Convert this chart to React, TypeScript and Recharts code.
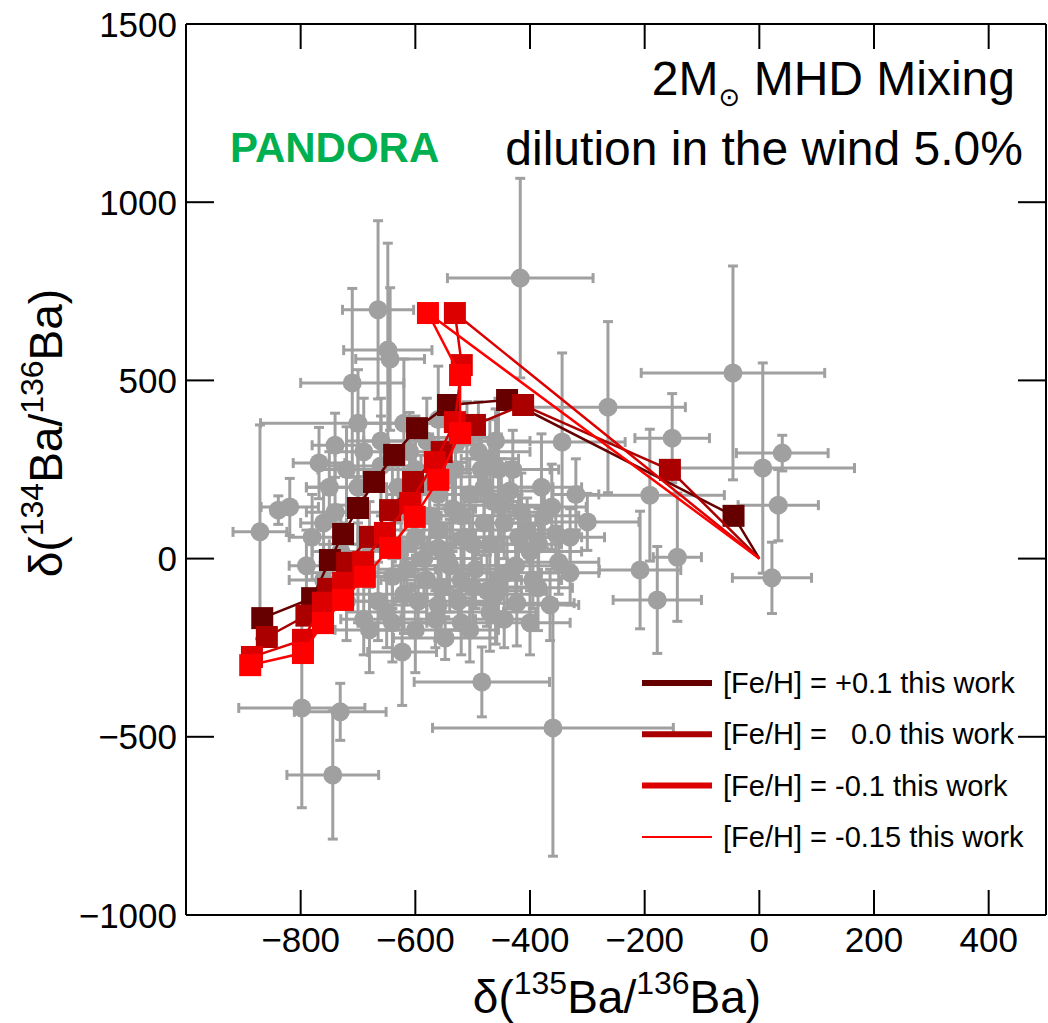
import React from 'react';
import { ScatterChart, Scatter, XAxis, YAxis, ErrorBar, ReferenceLine } from 'recharts';

const W = 1048;
const H = 1023;
const PLOT_TOP = 24;
const PLOT_RIGHT = 1046;
const FONT = '"Liberation Sans", Arial, Helvetica, sans-serif';
const GRAY = '#a0a0a0';

const xTicks = [-800, -600, -400, -200, 0, 200, 400];
const yTicks = [-1000, -500, 0, 500, 1000, 1500];

// grain measurements (gray)
const grayX = [-417, -665, -648, -644, -710, -740, -768, -700, -839, -871, -819, -46, -264, -152, 40, 6, 33, -191, -143, -208, -178, 22, -344, -300, -362, -360, -484, -798, -731, -744, -548, -386, -423, -623,
  -600, -560, -520, -480, -450, -420, -400, -380, -500, -540, -580, -620, -650, -600, -640, -680, -700, -720, -760, -780, -500, -470, -440, -560, -520, -480, -460, -530, -490, -580, -620, -560, -520, -600, -680, -660, -700, -740, -430, -400, -350, -330, -460, -640, -560, -455,
  -610, -590, -575, -545, -535, -515, -505, -495, -485, -470, -465, -455, -445, -435, -425, -415, -405, -395, -385, -375, -365, -355, -545, -555, -565, -585, -595, -605, -625, -630, -615, -525, -505, -475, -445, -530, -560, -510, -470, -660, -690, -720, -750, -730, -760, -790, -665, -690, -640, -330, -320];
const grayY = [787, 698, 585, 560, 493, 318, 268, 380, 136, 75, 145, 521, 425, 338, 296, 254, 150, 178, 4, -32, -116, -54, 327, 103, 145, -475, -346, -419, -430, -607, -223, -82, -125, -262,
  250, 180, 120, 200, 150, 60, 20, 200, 40, -20, -60, -100, -150, 60, 130, 40, -40, -120, -60, 60, -80, -150, -40, -130, -180, 100, -100, 250, 300, 330, 380, 80, -60, -200, -200, 260, 200, 130, 250, -180, -10, 60, 330, -50, 30, 250,
  300, 200, 120, 230, 140, 60, 180, -30, 250, 40, 160, -60, 100, 190, -20, 130, 80, -60, 40, 120, -130, 70, 0, -80, -170, 0, -120, 120, 30, 200, -30, -120, -200, -90, -170, 320, 390, 340, 280, 330, 300, 250, 200, 20, 100, -20, -120, -170, -180, -40, 180];
const grayEX = [127, 62, 77, 60, 90, 40, 45, 170, 12, 47, 50, 160, 135, 65, 80, 160, 70, 130, 42, 71, 77, 69, 110, 90, 60, 210, 118, 110, 80, 80, 90, 60, 100, 60,
  70, 90, 100, 120, 80, 110, 90, 70, 90, 100, 80, 90, 70, 100, 80, 70, 90, 70, 60, 40, 110, 80, 100, 90, 70, 80, 90, 60, 90, 110, 70, 90, 60, 80, 60, 80, 90, 50, 80, 70, 70, 60, 60, 50, 110, 90,
  40, 60, 50, 70, 40, 60, 50, 70, 40, 60, 50, 40, 60, 50, 70, 50, 60, 50, 40, 60, 50, 40, 60, 50, 60, 50, 40, 50, 40, 50, 50, 60, 50, 60, 50, 40, 50, 60, 50, 60, 50, 50, 40, 50, 40, 30, 50, 40, 60, 50, 40];
const grayEY = [280, 250, 300, 200, 265, 90, 100, 150, 40, 300, 80, 300, 240, 125, 50, 295, 100, 185, 180, 165, 150, 100, 250, 80, 120, 360, 98, 280, 80, 180, 60, 120, 120, 150,
  150, 120, 150, 100, 130, 120, 100, 150, 110, 130, 120, 110, 100, 140, 130, 120, 140, 110, 100, 120, 120, 110, 100, 100, 90, 90, 140, 110, 140, 120, 180, 100, 110, 120, 120, 140, 160, 130, 110, 90, 90, 80, 90, 90, 120, 200,
  110, 90, 100, 80, 120, 90, 100, 110, 90, 80, 110, 90, 100, 80, 90, 110, 90, 80, 100, 90, 100, 80, 100, 90, 80, 110, 90, 100, 120, 100, 90, 80, 90, 100, 80, 120, 150, 100, 110, 120, 150, 120, 100, 130, 110, 100, 110, 100, 110, 90, 100];

// model predictions, starting at solar (0,0)
const fehP01X = [0, -45, -440, -543, -597, -637, -672, -700, -726, -749, -780, -867];
const fehP01Y = [0, 120, 445, 431, 366, 291, 215, 142, 69, -4, -111, -167];
const feh00X = [0, -156, -412, -496, -554, -604, -644, -679, -719, -752, -790, -859];
const feh00Y = [0, 249, 431, 375, 299, 215, 136, 61, -12, -85, -160, -220];
const fehM01X = [0, -531, -519, -531, -566, -609, -653, -691, -726, -761, -796, -885];
const fehM01Y = [0, 689, 543, 383, 271, 156, 72, -10, -68, -124, -228, -276];
const fehM015X = [0, -578, -522, -522, -560, -601, -644, -688, -726, -761, -796, -888];
const fehM015Y = [0, 689, 515, 352, 221, 117, 30, -51, -116, -181, -265, -299];

const seriesNames = [
  '[Fe/H] = +0.1 this work',
  '[Fe/H] =   0.0 this work',
  '[Fe/H] = -0.1 this work',
  '[Fe/H] = -0.15 this work',
];
const seriesColors = ['#660000', '#aa0000', '#dd0000', '#ff0000'];
const legendLineWidths = [6, 6, 6, 2];

const gray = grayX.map((x, i) => ({ x, y: grayY[i], ex: grayEX[i], ey: grayEY[i] }));
const seriesXY = [
  [fehP01X, fehP01Y],
  [feh00X, feh00Y],
  [fehM01X, fehM01Y],
  [fehM015X, fehM015Y],
];
const series = seriesXY.map(([xs, ys]) => xs.map((x, i) => ({ x, y: ys[i], start: i === 0 })));

const fmt = (v: number) => (v < 0 ? '\u2212' + Math.abs(v) : String(v));

const XTick = (props: any) => {
  const { x, y, payload } = props;
  return (
    <g>
      <line x1={x} y1={y} x2={x} y2={y - 25} stroke="#000" strokeWidth={2} />
      <line x1={x} y1={PLOT_TOP} x2={x} y2={PLOT_TOP + 25} stroke="#000" strokeWidth={2} />
      <text x={x} y={y + 37} textAnchor="middle" fontSize={35} fontFamily={FONT} fill="#000">
        {fmt(payload.value)}
      </text>
    </g>
  );
};

const YTick = (props: any) => {
  const { x, y, payload } = props;
  return (
    <g>
      <line x1={x} y1={y} x2={x + 28} y2={y} stroke="#000" strokeWidth={2} />
      <line x1={PLOT_RIGHT - 28} y1={y} x2={PLOT_RIGHT} y2={y} stroke="#000" strokeWidth={2} />
      <text x={x - 9} y={y + 12.5} textAnchor="end" fontSize={35} fontFamily={FONT} fill="#000">
        {fmt(payload.value)}
      </text>
    </g>
  );
};

const GrayDot = (props: any) => {
  const { cx, cy } = props;
  return <circle cx={cx} cy={cy} r={9.5} fill={GRAY} />;
};

const makeSquare = (color: string) => (props: any) => {
  const { cx, cy, payload } = props;
  if (payload && payload.start) return <g />;
  return <rect x={cx - 11} y={cy - 11} width={22} height={22} fill={color} />;
};

export default function App() {
  return (
    <div style={{ position: 'absolute', left: 0, top: 0, width: W, height: H, background: '#fff' }}>
      <ScatterChart width={W} height={H} margin={{ top: PLOT_TOP, right: W - PLOT_RIGHT, bottom: 0, left: 0 }}>
        <XAxis
          type="number"
          dataKey="x"
          domain={[-1000, 500]}
          ticks={xTicks}
          interval={0}
          height={108}
          tickSize={0}
          tickMargin={0}
          tickLine={false}
          axisLine={{ stroke: '#000', strokeWidth: 2 }}
          tick={<XTick />}
          allowDataOverflow
        />
        <YAxis
          type="number"
          dataKey="y"
          domain={[-1000, 1500]}
          ticks={yTicks}
          interval={0}
          width={186}
          tickSize={0}
          tickMargin={0}
          tickLine={false}
          axisLine={{ stroke: '#000', strokeWidth: 2 }}
          tick={<YTick />}
          allowDataOverflow
        />
        <ReferenceLine y={1500} stroke="#000" strokeWidth={2} />
        <ReferenceLine x={500} stroke="#000" strokeWidth={2} />
        <Scatter data={gray} fill={GRAY} shape={GrayDot} isAnimationActive={false}>
          <ErrorBar dataKey="ex" direction="x" stroke={GRAY} strokeWidth={3} width={5} />
          <ErrorBar dataKey="ey" direction="y" stroke={GRAY} strokeWidth={3} width={5} />
        </Scatter>
        {series.map((d, i) => (
          <Scatter
            key={i}
            data={d}
            fill={seriesColors[i]}
            line={{ stroke: seriesColors[i], strokeWidth: 2.5 }}
            lineType="joint"
            shape={makeSquare(seriesColors[i])}
            isAnimationActive={false}
          />
        ))}
      </ScatterChart>
      <svg
        width={W}
        height={H}
        style={{ position: 'absolute', left: 0, top: 0, pointerEvents: 'none' }}
        fontFamily={FONT}
      >
        <text x={1015} y={95} textAnchor="end" fontSize={48} fill="#000">
          2M
          <tspan fontSize={26} dy={11} fontFamily='"DejaVu Sans", sans-serif'>⊙</tspan>
          <tspan dy={-11}> MHD Mixing</tspan>
        </text>
        <text x={1023} y={165} textAnchor="end" fontSize={48} fill="#000">
          dilution in the wind 5.0%
        </text>
        <text x={230} y={162} fontSize={42} fontWeight="bold" fill="#00b050">
          PANDORA
        </text>
        {seriesNames.map((name, i) => {
          const cy = 683 + i * 51.3;
          return (
            <g key={name}>
              <line x1={642} y1={cy} x2={712} y2={cy} stroke={seriesColors[i]} strokeWidth={legendLineWidths[i]} />
              <text x={723} y={cy + 10} fontSize={29} fill="#000" style={{ whiteSpace: 'pre' }}>
                {name}
              </text>
            </g>
          );
        })}
        <text x={617} y={1013} textAnchor="middle" fontSize={46} fill="#000">
          δ(<tspan fontSize={32} dy={-19}>135</tspan>
          <tspan dy={19}>Ba/</tspan>
          <tspan fontSize={32} dy={-19}>136</tspan>
          <tspan dy={19}>Ba)</tspan>
        </text>
        <text x={0} y={0} transform="translate(62,433) rotate(-90)" textAnchor="middle" fontSize={46} fill="#000">
          δ(<tspan fontSize={32} dy={-19}>134</tspan>
          <tspan dy={19}>Ba/</tspan>
          <tspan fontSize={32} dy={-19}>136</tspan>
          <tspan dy={19}>Ba)</tspan>
        </text>
      </svg>
    </div>
  );
}
